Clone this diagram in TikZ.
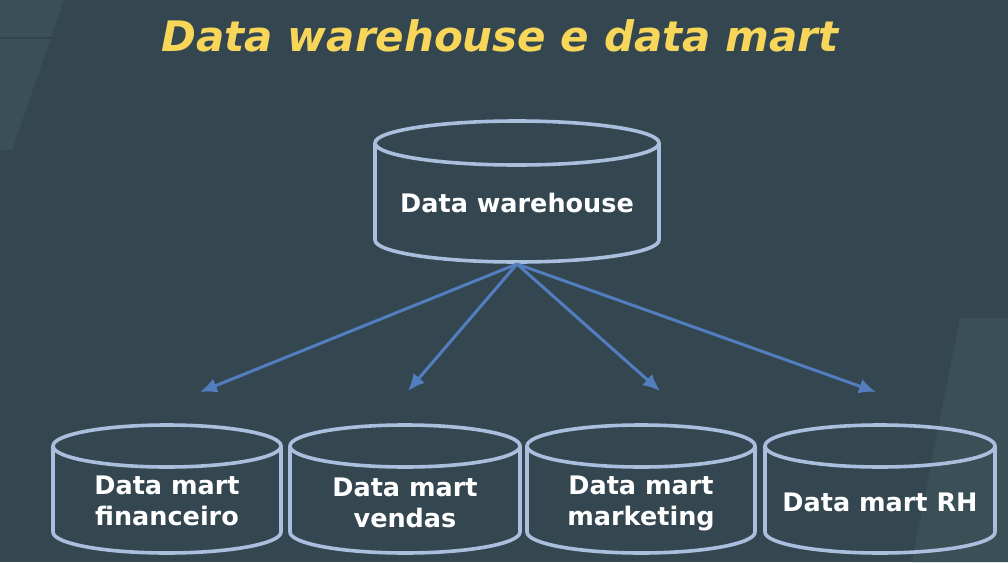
\documentclass[tikz,border=0pt]{standalone}
\usepackage{fontspec}
\setmainfont{DejaVu Sans}
\usetikzlibrary{arrows.meta}

\definecolor{slidebg}{RGB}{52,71,80}
\definecolor{panelbg}{RGB}{59,79,87}
\definecolor{cylrim}{RGB}{170,190,222}
\definecolor{arrowblue}{RGB}{82,126,192}
\definecolor{titleyellow}{RGB}{248,214,90}

\tikzset{
  cylline/.style={draw=cylrim,line width=3.6pt},
  flowarrow/.style={draw=arrowblue,line width=3pt,-{Latex[length=17pt,width=15pt]}},
  dblabel/.style={text=white,font=\bfseries\fontsize{25.5}{31}\selectfont,align=center,inner sep=0pt},
}

% cylinder: centre x, top-ellipse y, bottom-ellipse y, x radius, y radius
\newcommand{\dbcylinder}[5]{%
  \draw[cylline] ({#1-#4},#2) -- ({#1-#4},#3)
    arc[start angle=180,end angle=0,x radius=#4,y radius=#5] -- ({#1+#4},#2);
  \draw[cylline] (#1,#2) ellipse[x radius=#4,y radius=#5];
}

\begin{document}
\begin{tikzpicture}[x=1pt,y=-1pt]
\useasboundingbox (0,0) rectangle (1008,562);
\fill[slidebg] (0,0) rectangle (1008,562);
% faint background panels
\fill[panelbg] (0,0) -- (64,0) -- (12,150) -- (0,150) -- cycle;
\draw[slidebg!80!black,line width=1.2pt,opacity=0.5] (0,38) -- (52,38);
\fill[panelbg] (960,318) -- (1008,318) -- (1008,562) -- (912,562) -- cycle;

% title
\node[text=titleyellow,font=\bfseries\itshape\fontsize{42}{48}\selectfont,inner sep=0pt] (title) at (500,36) {Data warehouse e data mart};

% data warehouse
\dbcylinder{517}{143}{240}{142}{22}
\node[dblabel] (dw) at (517,203) {Data warehouse};
\coordinate (dwout) at (517,264);

% data marts
\dbcylinder{167}{446}{532}{114}{21}
\dbcylinder{405}{446}{532}{115}{21}
\dbcylinder{641}{446}{532}{114}{21}
\dbcylinder{880}{446}{532}{115}{21}
\node[dblabel] (fin) at (167,501) {Data mart\\financeiro};
\node[dblabel] (ven) at (405,503) {Data mart\\vendas};
\node[dblabel] (mkt) at (641,503) {Data mart\\marketing};
\node[dblabel] (rh) at (880,502) {Data mart RH};

\coordinate (finin) at (200,392);
\coordinate (venin) at (408,391);
\coordinate (mktin) at (660,391);
\coordinate (rhin) at (876,392);

% arrows
\draw[flowarrow] (dwout) -- (finin);
\draw[flowarrow] (dwout) -- (venin);
\draw[flowarrow] (dwout) -- (mktin);
\draw[flowarrow] (dwout) -- (rhin);
\end{tikzpicture}
\end{document}
